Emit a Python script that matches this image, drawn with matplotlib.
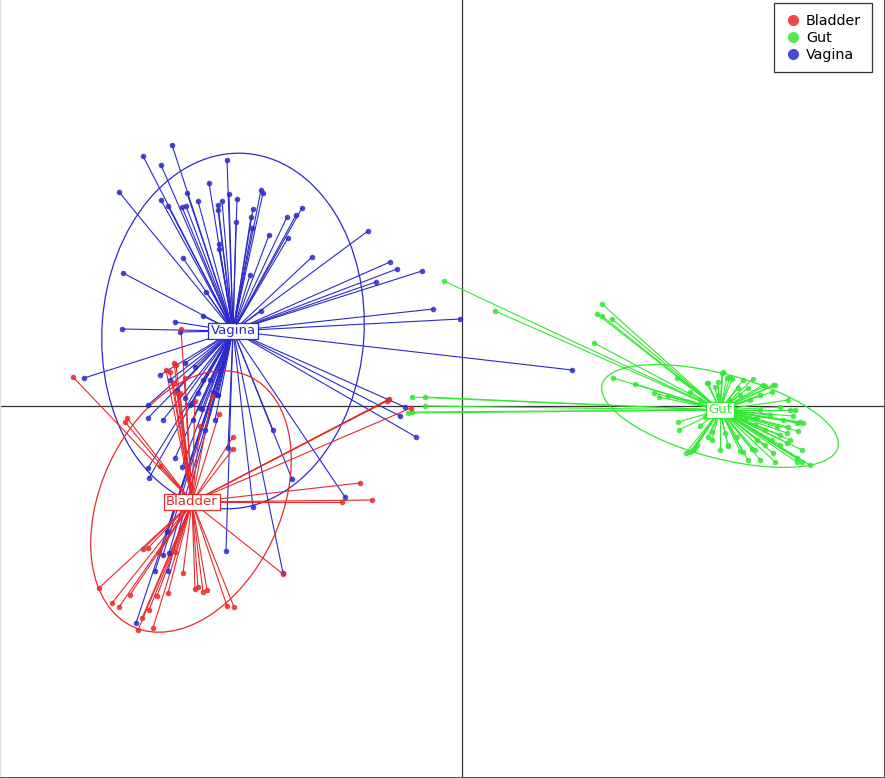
import matplotlib.pyplot as plt
from matplotlib.patches import Ellipse

groups = ["Bladder", "Gut", "Vagina"]
colors = {"Bladder": "#E82A2A", "Gut": "#33E833", "Vagina": "#2A2ACC"}

# group centres
centre_x = {"Bladder": -2.70, "Gut": 2.58, "Vagina": -2.29}
centre_y = {"Bladder": -0.96, "Gut": -0.04, "Vagina": 0.75}

# ellipse (width, height, angle)
ell_w = {"Bladder": 1.80, "Gut": 2.44, "Vagina": 2.62}
ell_h = {"Bladder": 2.76, "Gut": 0.84, "Vagina": 3.56}
ell_a = {"Bladder": -25, "Gut": -15, "Vagina": -4}
ell_cx = {"Bladder": -2.71, "Gut": 2.58, "Vagina": -2.29}
ell_cy = {"Bladder": -0.955, "Gut": -0.10, "Vagina": 0.75}

vagina_x = [-2.90, -3.19, -3.01, -2.35, -3.43, -2.53, -2.75, -3.01, -2.94, -2.80,
            -2.76, -2.64, -2.44, -2.40, -2.44, -2.33, -2.25, -2.26, -2.01, -1.99,
            -2.09, -2.11, -2.10, -1.93, -1.75, -1.66, -1.60, -1.74, -2.43, -2.43,
            -2.12, -1.50, -0.94, -2.79, -3.39, -2.56, -0.72, -0.65, -0.86, -0.40,
            -0.29, -0.02, -2.01, -2.59, -2.87, -3.40, -2.82, 1.10, -3.78, -3.02,
            -2.92, -2.77, -2.67, -3.14, -3.14, -2.99, -2.70, -2.60, -3.14, -3.13,
            -2.80, -2.34, -1.89, -1.70, -1.17, -2.09, -2.36, -1.79, -0.57, -0.62,
            -0.46, -2.95, -2.99, -2.93, -2.94, -3.26, -3.07, -2.85, -2.64, -2.49,
            -2.44, -2.52, -2.42, -2.57, -2.47, -2.77, -2.72, -2.62, -2.59, -2.45,
            -2.69, -2.87]
vagina_y = [2.61, 2.50, 2.41, 2.46, 2.14, 2.23, 2.13, 2.06, 2.00, 1.99,
            2.00, 2.05, 2.01, 2.05, 1.96, 2.12, 2.07, 1.84, 2.16, 2.13,
            1.97, 1.89, 1.78, 1.71, 1.89, 1.91, 1.98, 1.68, 1.62, 1.57,
            1.31, 1.49, 1.75, 1.48, 1.33, 1.14, 1.44, 1.37, 1.24, 1.35,
            0.97, 0.87, 0.95, 0.90, 0.84, 0.77, 0.74, 0.36, 0.28, 0.31,
            0.26, 0.43, 0.39, 0.01, -0.12, -0.14, 0.03, -0.03, -0.62, -0.72,
            -0.61, -0.42, -0.24, -0.73, -0.91, -1.01, -1.45, -1.67, -0.01, -0.10,
            -0.31, -1.26, -1.49, -1.47, -1.65, -2.17, -1.65, 0.16, 0.13, 0.14,
            0.11, 0.26, 0.36, -0.24, -0.14, 0.08, 0.01, -0.02, 0.26, 0.11,
            -0.14, -0.52]

bladder_x = [-3.89, -2.88, -2.92, -2.89, -3.35, -3.37, -2.43, -2.29, -2.29, -0.74,
             -0.51, -1.02, -0.90, -1.20, -3.63, -3.50, -3.43, -3.24, -3.20, -3.09,
             -2.94, -2.79, -2.67, -2.64, -2.59, -2.55, -2.35, -2.28, -1.79, -3.19,
             -3.14, -3.03, -2.87, -2.85, -2.82, -2.67, -3.02, -2.81, -2.86, -2.96,
             -2.77, -3.32, -0.73, -0.75, -3.13, -3.05, -2.50, -2.62]
bladder_y = [0.29, 0.43, 0.34, 0.23, -0.12, -0.16, -0.08, -0.31, -0.43, 0.06,
             -0.02, -0.77, -0.94, -0.96, -1.82, -1.97, -2.01, -2.24, -2.12, -2.22,
             -1.87, -1.67, -1.83, -1.81, -1.86, -1.84, -2.00, -2.01, -1.68, -1.43,
             -1.42, -1.47, -1.46, 0.13, 0.13, 0.05, -0.60, 0.77, 0.41, 0.36,
             0.28, -1.89, 0.07, 0.05, -2.04, -1.90, 0.10, -0.20]

gut_x = [1.40, 1.35, 1.40, 1.50, 1.32, 1.51, 1.73, 1.92, 1.97, 2.06,
         2.15, 2.61, 2.46, 2.53, 2.65, 2.70, 2.81, 2.91, 3.03, 3.11,
         3.10, 3.26, 3.18, 3.31, 3.35, 3.36, 3.25, 3.15, 2.16, 2.17,
         2.38, 2.43, 2.35, 2.24, 2.31, 2.66, 2.81, 2.93, 3.11, 3.40,
         3.48, 3.35, 2.63, 2.75, 2.95, -0.18, 0.33, -0.50, -0.37, -0.37,
         -0.50, -0.54, 2.78, 2.88, 2.98, 3.08, 2.83, 2.93, 2.73, 3.03,
         3.21, 3.28, 2.98, 2.86, 2.76, 2.56, 2.68, 2.50, 2.58, 3.03,
         3.18, 3.28, 2.38, 2.28, 2.98, 3.13, 2.86, 2.45, 2.56, 2.68,
         3.01, 3.13, 3.33, 3.38, 3.41, 3.26, 3.18, 3.10, 2.90, 2.78,
         2.66, 2.46, 2.33, 2.28, 3.35, 3.40, 3.25, 2.50, 2.60, 2.95]
gut_y = [1.02, 0.92, 0.90, 0.87, 0.63, 0.28, 0.22, 0.13, 0.09, 0.10,
         0.28, 0.34, 0.23, 0.19, 0.28, 0.27, 0.26, 0.27, 0.20, 0.21,
         0.14, 0.06, -0.01, -0.10, -0.17, -0.25, -0.27, -0.21, -0.16, -0.24,
         -0.20, -0.11, -0.39, -0.47, -0.44, -0.39, -0.46, -0.44, -0.47, -0.44,
         -0.59, -0.56, -0.27, -0.31, -0.34, 1.25, 0.95, 0.09, 0.09, 0.00,
         -0.06, -0.07, 0.11, 0.06, -0.04, -0.09, -0.14, -0.19, -0.04, -0.24,
         -0.14, -0.04, 0.11, 0.18, 0.18, 0.11, 0.06, -0.34, -0.44, -0.39,
         -0.39, -0.34, 0.06, 0.14, -0.54, -0.56, -0.54, 0.23, 0.24, 0.29,
         0.21, 0.21, -0.04, -0.16, -0.17, -0.21, -0.29, -0.34, -0.43, -0.45,
         -0.40, -0.31, -0.42, -0.46, -0.52, -0.56, -0.37, -0.26, 0.33, -0.12]

points_x = {"Bladder": bladder_x, "Gut": gut_x, "Vagina": vagina_x}
points_y = {"Bladder": bladder_y, "Gut": gut_y, "Vagina": vagina_y}

fig = plt.figure(figsize=(8.85, 7.78), dpi=100)
ax = fig.add_axes([0, 0, 1, 1])
ax.set_xlim(-4.62, 4.23)
ax.set_ylim(-3.72, 4.06)
ax.set_xticks([])
ax.set_yticks([])
ax.spines["top"].set_visible(False)
ax.spines["left"].set_color("#DDDDDD")
for side in ["bottom", "right"]:
    ax.spines[side].set_color("#444444")
    ax.spines[side].set_linewidth(2)

ax.axhline(0, color="#333333", lw=0.9, zorder=1)
ax.axvline(0, color="#333333", lw=0.9, zorder=1)

# gut and vagina first so bladder sits on top like the reference
for g in ["Gut", "Vagina", "Bladder"]:
    c = colors[g]
    cx, cy = centre_x[g], centre_y[g]
    for px, py in zip(points_x[g], points_y[g]):
        ax.plot([cx, px], [cy, py], color=c, lw=0.8, zorder=2)
    ax.plot(points_x[g], points_y[g], "o", color=c, ms=4.0, alpha=0.85,
            mec="none", zorder=3)
    ax.add_patch(Ellipse((ell_cx[g], ell_cy[g]), ell_w[g], ell_h[g],
                         angle=ell_a[g], fill=False, ec=c, lw=0.9, zorder=2))

for g in groups:
    c = colors[g]
    ax.text(centre_x[g], centre_y[g], g, color=c, fontsize=9.5,
            ha="center", va="center", zorder=5,
            bbox=dict(boxstyle="square,pad=0.15", fc="white", ec=c, lw=0.9))

handles = [plt.Line2D([], [], marker="o", ls="none", color=colors[g],
                      ms=8, alpha=0.85, mec="none", label=g) for g in groups]
leg = ax.legend(handles=handles, loc="upper right", fontsize=10.3,
                frameon=True, fancybox=False, edgecolor="black",
                handletextpad=0.3, borderpad=0.75, labelspacing=0.2,
                handlelength=1.2, borderaxespad=0,
                bbox_to_anchor=(0.985, 0.996))
leg.get_frame().set_linewidth(0.9)

fig.savefig("out.png", dpi=100)
